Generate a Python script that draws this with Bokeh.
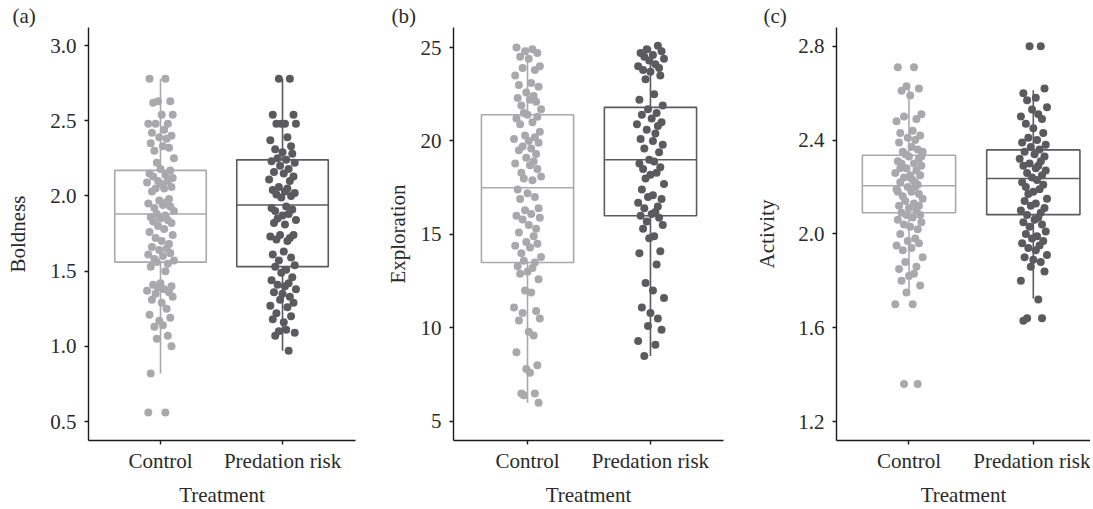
from bokeh.plotting import figure
from bokeh.layouts import row
from bokeh.models import FixedTicker, Title, NumeralTickFormatter, Range1d
from bokeh.embed import file_html
from bokeh.resources import INLINE

CATEGORIES = ["Control", "Predation risk"]
COLORS = ["#a9a9ab", "#5b5b5e"]
FONT = "Liberation Serif"

# ---- Panel (a) Boldness ----
bold_control = [2.78, 2.78, 2.63, 2.63, 2.62, 2.54, 2.54, 2.48, 2.48, 2.48, 2.44, 2.42, 2.40, 2.39, 2.38,
                2.35, 2.33, 2.32, 2.30, 2.25, 2.22, 2.18, 2.17, 2.15, 2.14, 2.13, 2.12, 2.10, 2.10, 2.09,
                2.08, 2.06, 2.05, 2.05, 2.03, 1.98, 1.97, 1.96, 1.95, 1.94, 1.93, 1.92, 1.90, 1.88, 1.87,
                1.86, 1.85, 1.84, 1.83, 1.82, 1.80, 1.78, 1.76, 1.74, 1.72, 1.70, 1.68, 1.66, 1.65, 1.64,
                1.62, 1.61, 1.60, 1.58, 1.57, 1.56, 1.55, 1.53, 1.50, 1.42, 1.41, 1.40, 1.39, 1.38, 1.37,
                1.36, 1.35, 1.33, 1.31, 1.29, 1.25, 1.21, 1.19, 1.17, 1.14, 1.13, 1.07, 1.05, 1.00, 0.82,
                0.56, 0.56]
bold_predation = [2.78, 2.78, 2.54, 2.54, 2.48, 2.48, 2.48, 2.48, 2.39, 2.37, 2.33, 2.31, 2.29, 2.28, 2.25,
                  2.24, 2.23, 2.22, 2.20, 2.18, 2.16, 2.15, 2.13, 2.11, 2.10, 2.06, 2.05, 2.04, 2.03, 2.02,
                  2.01, 2.00, 1.99, 1.93, 1.92, 1.91, 1.90, 1.88, 1.87, 1.85, 1.84, 1.82, 1.81, 1.74, 1.74,
                  1.73, 1.72, 1.71, 1.70, 1.63, 1.61, 1.59, 1.57, 1.54, 1.53, 1.51, 1.49, 1.46, 1.44, 1.42,
                  1.41, 1.40, 1.38, 1.36, 1.35, 1.33, 1.31, 1.29, 1.27, 1.26, 1.22, 1.20, 1.18, 1.16, 1.11,
                  1.10, 1.09, 1.07, 0.97]
# box stats: [lower whisker, q1, median, q3, upper whisker] per category
bold_box = [[0.82, 1.56, 1.88, 2.17, 2.78], [0.97, 1.53, 1.94, 2.24, 2.78]]
bold_ticks = [0.5, 1.0, 1.5, 2.0, 2.5, 3.0]

# ---- Panel (b) Exploration ----
expl_control = [25.0, 24.9, 24.8, 24.7, 24.5, 24.4, 24.0, 23.9, 23.8, 23.5, 23.1, 23.0, 22.9, 22.6, 22.4,
                22.3, 22.2, 22.1, 21.9, 21.7, 21.5, 21.4, 21.3, 21.2, 21.0, 20.9, 20.5, 20.3, 20.2, 20.1,
                20.0, 19.9, 19.7, 19.6, 19.5, 19.3, 19.1, 18.9, 18.8, 18.7, 18.5, 18.3, 18.1, 18.0, 17.9,
                17.4, 17.2, 17.0, 16.9, 16.4, 16.3, 16.1, 16.0, 15.9, 15.8, 15.5, 15.3, 15.1, 14.9, 14.6,
                14.5, 14.4, 14.3, 14.0, 13.8, 13.6, 13.5, 13.3, 13.2, 13.0, 12.9, 12.6, 12.0, 11.9, 11.1,
                10.9, 10.8, 10.5, 10.4, 9.8, 9.6, 8.7, 8.0, 7.8, 7.6, 6.5, 6.5, 6.4, 6.0]
expl_predation = [25.1, 24.9, 24.8, 24.7, 24.6, 24.5, 24.4, 24.3, 24.1, 24.0, 23.9, 23.8, 23.7, 23.5, 23.3,
                  22.5, 22.2, 21.9, 21.7, 21.5, 21.4, 21.2, 21.0, 20.9, 20.8, 20.6, 20.4, 20.1, 20.0, 19.8,
                  19.6, 19.4, 19.0, 18.9, 18.8, 18.6, 18.5, 18.3, 18.2, 18.0, 17.7, 17.4, 17.1, 17.0, 16.9,
                  16.7, 16.5, 16.4, 16.2, 16.1, 16.0, 15.9, 15.7, 15.5, 15.3, 14.9, 14.8, 14.1, 14.0, 13.4,
                  12.4, 12.0, 11.6, 11.1, 10.8, 10.5, 10.1, 9.9, 9.3, 9.1, 8.5]
expl_box = [[6.0, 13.5, 17.5, 21.4, 25.0], [8.5, 16.0, 19.0, 21.8, 25.0]]
expl_ticks = [5, 10, 15, 20, 25]

# ---- Panel (c) Activity ----
act_control = [2.71, 2.71, 2.63, 2.62, 2.61, 2.59, 2.51, 2.50, 2.49, 2.48, 2.44, 2.43, 2.42, 2.41, 2.40,
               2.39, 2.37, 2.36, 2.35, 2.35, 2.34, 2.33, 2.32, 2.31, 2.30, 2.30, 2.29, 2.28, 2.27, 2.26,
               2.25, 2.25, 2.24, 2.23, 2.22, 2.21, 2.20, 2.20, 2.19, 2.18, 2.17, 2.16, 2.15, 2.14, 2.13,
               2.12, 2.11, 2.10, 2.09, 2.08, 2.08, 2.07, 2.06, 2.05, 2.04, 2.03, 2.02, 2.00, 1.98, 1.97,
               1.96, 1.95, 1.94, 1.93, 1.90, 1.88, 1.86, 1.85, 1.83, 1.82, 1.80, 1.78, 1.75, 1.70, 1.70,
               1.36, 1.36, 2.33, 2.28, 2.24, 2.22, 2.18, 2.12]
act_predation = [2.80, 2.80, 2.62, 2.60, 2.58, 2.57, 2.54, 2.53, 2.51, 2.50, 2.49, 2.47, 2.45, 2.43, 2.41,
                 2.40, 2.39, 2.38, 2.37, 2.36, 2.35, 2.34, 2.33, 2.32, 2.31, 2.30, 2.29, 2.29, 2.28, 2.27,
                 2.26, 2.25, 2.24, 2.23, 2.22, 2.21, 2.20, 2.19, 2.18, 2.17, 2.15, 2.14, 2.13, 2.12, 2.11,
                 2.10, 2.09, 2.08, 2.07, 2.06, 2.05, 2.04, 2.03, 2.01, 2.00, 1.99, 1.98, 1.97, 1.96, 1.95,
                 1.94, 1.93, 1.91, 1.90, 1.89, 1.88, 1.86, 1.84, 1.80, 1.72, 1.64, 1.64, 1.63]
act_box = [[1.745, 2.09, 2.205, 2.335, 2.63], [1.724, 2.082, 2.236, 2.358, 2.612]]
act_ticks = [1.2, 1.6, 2.0, 2.4, 2.8]

# hand-read horizontal jitter offsets (category units)
jitter_control = [-0.09, 0.04, -0.02, 0.08, -0.06, 0.01, 0.10, -0.04, 0.06, -0.10, 0.03, -0.07, 0.09, -0.01,
                  0.05, -0.08, 0.02, 0.07, -0.05, 0.11, -0.03, 0.00, 0.08, -0.09, 0.04, -0.06, 0.10, -0.02,
                  0.06, -0.11, 0.01, 0.09, -0.04, 0.03, -0.07, 0.07, -0.01, 0.05, -0.10, 0.02, 0.08, -0.05,
                  0.11, -0.03, 0.04, -0.08, 0.00, 0.06, -0.06, 0.09, -0.02, 0.03, -0.09, 0.10, -0.04, 0.01,
                  0.07, -0.07, 0.05, -0.01, 0.08, -0.10, 0.02, -0.05, 0.11, -0.03, 0.06, -0.08, 0.04, 0.00,
                  -0.06, 0.09, -0.02, 0.03, -0.11, 0.07, -0.04, 0.10, -0.07, 0.01, 0.05, -0.09, 0.08, -0.01,
                  0.02, -0.05, 0.06, -0.03, 0.09, -0.08, 0.04, -0.10, 0.00, 0.07, -0.06, 0.03, -0.02, 0.11,
                  -0.04, 0.05]
jitter_predation = [0.06, -0.03, 0.09, -0.08, 0.02, -0.05, 0.11, -0.01, 0.04, -0.10, 0.07, -0.06, 0.00, 0.08,
                    -0.04, 0.03, -0.09, 0.10, -0.02, 0.05, -0.07, 0.01, 0.09, -0.11, 0.06, -0.03, 0.04, -0.08,
                    0.02, 0.10, -0.05, 0.07, -0.01, 0.03, -0.09, 0.08, -0.06, 0.05, 0.00, -0.04, 0.11, -0.07,
                    0.02, -0.02, 0.09, -0.10, 0.06, -0.05, 0.04, 0.01, -0.08, 0.07, -0.03, 0.10, -0.06, 0.03,
                    -0.01, 0.08, -0.09, 0.05, -0.04, 0.02, 0.11, -0.07, 0.00, 0.06, -0.02, 0.09, -0.10, 0.04,
                    -0.05, 0.07, -0.08, 0.01, 0.03, -0.03, 0.10, -0.06, 0.05, -0.01, 0.08, -0.11, 0.02, -0.04,
                    0.06, -0.09, 0.04, 0.00, -0.07, 0.09, -0.02, 0.03, -0.05, 0.07, -0.08, 0.01, 0.11, -0.03,
                    0.05, -0.06]


def make_panel(tag, ylabel, groups, boxes, yticks, yfmt, xr, yr, width, bl, br, label_standoff, tag_dx):
    p = figure(width=width, height=509, output_backend="svg", toolbar_location=None,
               x_range=Range1d(*xr), y_range=Range1d(*yr),
               min_border_left=bl, min_border_right=br, min_border_top=27, min_border_bottom=69)
    p.outline_line_color = None
    p.xgrid.visible = False
    p.ygrid.visible = False
    p.background_fill_color = "white"
    p.border_fill_color = "white"

    p.title = Title(text=tag, align="left", offset=tag_dx, standoff=0,
                    text_font=FONT, text_font_size="21px", text_font_style="normal",
                    text_color="#2a2a2a")

    jitters = [jitter_control, jitter_predation]
    for i, (vals, box, col) in enumerate(zip(groups, boxes, COLORS)):
        xc = i + 1
        lo, q1, med, q3, hi = box
        p.quad(left=[xc - 0.375], right=[xc + 0.375], bottom=[q1], top=[q3],
               fill_color=None, line_color=col, line_width=1.6)
        p.segment(x0=[xc - 0.375], x1=[xc + 0.375], y0=[med], y1=[med], line_color=col, line_width=1.6)
        p.segment(x0=[xc, xc], x1=[xc, xc], y0=[q3, q1], y1=[hi, lo], line_color=col, line_width=1.6)
        xs = [xc + j for j in jitters[i][:len(vals)]]
        p.scatter(x=xs, y=vals, size=8, fill_color=col, line_color=None)

    for ax in (p.xaxis[0], p.yaxis[0]):
        ax.axis_line_color = "#1a1a1a"
        ax.axis_line_width = 1.4
        ax.major_tick_line_color = "#1a1a1a"
        ax.major_tick_line_width = 1.4
        ax.major_tick_out = 4
        ax.major_tick_in = 0
        ax.minor_tick_line_color = None
        ax.major_label_text_font = FONT
        ax.major_label_text_font_size = "21px"
        ax.major_label_text_color = "#2a2a2a"
        ax.axis_label_text_font = FONT
        ax.axis_label_text_font_size = "21px"
        ax.axis_label_text_font_style = "normal"
        ax.axis_label_text_color = "#2a2a2a"

    p.xaxis.ticker = FixedTicker(ticks=[1, 2])
    p.xaxis.major_label_overrides = {1: CATEGORIES[0], 2: CATEGORIES[1]}
    p.xaxis.axis_label = "Treatment"
    p.xaxis.major_label_standoff = 4
    p.xaxis.axis_label_standoff = 7

    p.yaxis.ticker = FixedTicker(ticks=yticks)
    if yfmt:
        p.yaxis.formatter = NumeralTickFormatter(format=yfmt)
    p.yaxis.axis_label = ylabel
    p.yaxis.major_label_standoff = 8
    p.yaxis.axis_label_standoff = label_standoff
    return p


pa = make_panel("(a)", "Boldness", [bold_control, bold_predation], bold_box, bold_ticks, "0.0",
                (0.41, 2.598), (0.374, 3.12), 375, 88, 20, 17, -76)
pb = make_panel("(b)", "Exploration", [expl_control, expl_predation], expl_box, expl_ticks, None,
                (0.398, 2.594), (3.98, 26.07), 375, 78, 27, 8, -62)
pc = make_panel("(c)", "Activity", [act_control, act_predation], act_box, act_ticks, "0.0",
                (0.417, 2.46), (1.119, 2.88), 340, 86, 0, 16, -73)

layout = row(pa, pb, pc)
open("out.html", "w").write(file_html(layout, INLINE))
